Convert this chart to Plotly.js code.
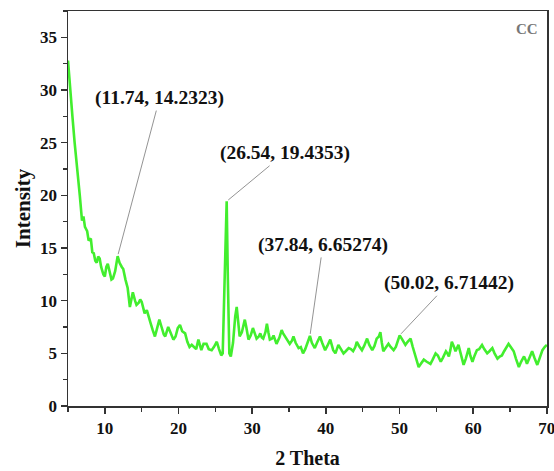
<!DOCTYPE html>
<html>
<head>
<meta charset="utf-8">
<script src="https://cdn.plot.ly/plotly-3.0.1.min.js"></script>
<style>html,body{margin:0;padding:0;background:#fff;}#chart{width:554px;height:471px;}</style>
</head>
<body>
<div id="chart"></div>
<script>
const twoTheta = [5.0,5.3,5.6,5.9,6.2,6.4,6.6,6.9,7.1,7.3,7.6,7.8,8.1,8.3,8.5,8.7,8.9,9.1,9.3,9.5,9.8,10.0,10.2,10.4,10.7,10.9,11.1,11.4,11.74,12.0,12.3,12.5,12.8,13.1,13.4,13.6,13.8,14.1,14.3,14.6,14.8,15.0,15.2,15.4,15.7,16.0,16.2,16.5,16.8,17.1,17.4,17.7,18.0,18.2,18.6,18.9,19.3,19.6,19.9,20.2,20.5,20.9,21.2,21.5,21.8,22.1,22.4,22.7,23.0,23.1,23.4,23.8,24.1,24.5,24.8,25.2,25.5,25.8,26.0,26.2,26.4,26.54,26.7,26.9,27.1,27.4,27.7,27.9,28.1,28.3,28.6,29.0,29.2,29.5,29.8,30.1,30.4,30.6,30.9,31.1,31.3,31.5,31.8,32.0,32.2,32.4,32.7,32.9,33.1,33.3,33.7,34.0,34.2,34.5,34.8,35.1,35.4,35.6,35.9,36.3,36.6,36.9,37.2,37.5,37.84,38.1,38.5,38.8,39.2,39.5,39.9,40.2,40.6,41.0,41.3,41.7,42.0,42.4,42.7,43.1,43.4,43.7,44.0,44.2,44.5,44.9,45.2,45.6,45.9,46.3,46.6,46.9,47.2,47.4,47.6,47.8,48.1,48.5,48.8,49.2,49.5,49.8,50.02,50.3,50.6,50.8,51.1,51.5,51.8,52.1,52.4,52.6,52.9,53.3,53.7,54.0,54.2,54.5,54.9,55.2,55.6,55.9,56.3,56.5,56.7,56.9,57.1,57.4,57.6,58.0,58.3,58.7,59.0,59.4,59.6,59.9,60.2,60.5,60.8,61.2,61.5,61.9,62.2,62.6,62.9,63.3,63.6,63.9,64.2,64.5,64.8,65.1,65.5,65.8,66.2,66.5,66.9,67.1,67.3,67.6,68.0,68.3,68.7,69.0,69.4,69.7,70.0];
const intensity = [32.8,30.5,27.5,25.0,22.5,21.2,20.0,17.6,18.0,17.0,16.6,15.7,15.9,14.6,14.5,13.8,13.6,14.2,14.0,13.2,12.5,12.3,13.2,13.5,12.4,12.0,12.1,12.8,14.23,13.6,13.2,13.0,12.0,11.2,9.4,10.2,10.8,10.0,9.6,9.8,10.1,9.9,9.3,8.8,9.1,8.5,7.9,7.2,6.6,7.4,8.2,7.5,6.8,6.6,7.5,7.0,6.3,6.6,7.4,7.7,7.1,6.9,6.1,5.6,5.8,5.6,5.4,6.3,5.5,5.3,5.9,5.9,5.4,5.3,5.6,6.1,5.4,4.8,5.0,10.0,16.0,19.44,12.0,5.0,4.7,6.0,8.5,9.4,8.0,6.6,7.0,8.2,7.5,6.3,6.7,7.4,6.8,6.4,6.6,6.9,6.5,6.4,7.0,7.8,7.0,6.3,6.4,6.7,6.3,5.9,6.5,7.2,6.9,6.6,6.2,5.9,6.2,6.6,6.0,5.5,5.6,5.0,5.4,6.0,6.65,6.0,5.5,6.0,6.6,6.0,5.3,5.7,6.3,5.3,5.0,5.8,5.4,5.0,5.2,5.5,5.4,5.2,5.6,6.1,5.7,5.3,5.7,6.4,5.8,5.3,5.7,6.4,6.6,7.0,6.0,5.2,5.5,5.9,5.6,5.3,5.6,6.2,6.71,6.4,6.0,5.8,6.1,6.4,5.6,4.8,4.1,3.7,4.0,4.4,4.2,4.1,4.0,4.4,5.0,4.8,4.2,4.6,5.2,5.0,4.7,5.3,6.1,5.6,5.2,5.8,5.0,3.9,4.5,5.5,4.8,4.2,4.8,5.3,5.4,5.8,5.4,5.0,5.2,5.5,5.0,4.5,4.7,4.8,5.2,5.6,5.9,5.6,5.2,4.5,3.7,4.2,4.7,4.4,4.0,4.5,5.2,4.6,3.9,4.5,5.3,5.6,5.8];

const peakX = [11.74, 26.54, 37.84, 50.02];
const peakY = [14.2323, 19.4353, 6.65274, 6.71442];
const peakLabels = ["(11.74, 14.2323)", "(26.54, 19.4353)", "(37.84, 6.65274)", "(50.02, 6.71442)"];
const labelOffsets = [[42, -158], [58, -48], [13, -91], [49, -52]];

const serif = "'Liberation Serif', 'Times New Roman', serif";

const annotations = peakX.map((x, i) => ({
  x: x, y: peakY[i], xref: 'x', yref: 'y',
  text: peakLabels[i],
  showarrow: true, arrowhead: 0, arrowwidth: 0.8, arrowcolor: '#777',
  ax: labelOffsets[i][0], ay: labelOffsets[i][1], standoff: 2,
  font: {family: serif, size: 19.5, color: '#111', weight: 'bold'}
}));
annotations.push({
  xref: 'paper', yref: 'paper', x: 0.985, y: 0.955, xanchor: 'right', yanchor: 'middle',
  text: 'CC', showarrow: false,
  font: {family: serif, size: 15, color: '#777', weight: 'bold'}
});

const trace = {
  x: twoTheta, y: intensity, type: 'scatter', mode: 'lines',
  line: {color: 'rgb(66,238,46)', width: 2.6}, showlegend: false
};

const axisCommon = {
  showline: true, linecolor: '#333', linewidth: 1.5, mirror: true,
  ticks: 'outside', ticklen: 6, tickwidth: 1.5, tickcolor: '#333',
  showgrid: false, zeroline: false, ticklabeloverflow: 'allow',
  tickfont: {family: serif, size: 17, color: '#111', weight: 'bold'}
};

const layout = {
  width: 554, height: 471,
  margin: {l: 68, r: 7, t: 11, b: 65},
  paper_bgcolor: '#fff', plot_bgcolor: '#fff',
  xaxis: Object.assign({}, axisCommon, {
    range: [5, 70.02], tickvals: [10,20,30,40,50,60,70], ticktext: ['10','20','30','40','50','60','70'],
    minor: {tickvals: [5,15,25,35,45,55,65], ticks: 'outside', ticklen: 4, tickwidth: 1.2, tickcolor: '#333'},
    title: {text: '2 Theta', standoff: 14, font: {family: serif, size: 20, color: '#111', weight: 'bold'}}
  }),
  yaxis: Object.assign({}, axisCommon, {
    range: [0, 37.5], tickvals: [0,5,10,15,20,25,30,35], ticktext: ['0','5','10','15','20','25','30','35'],
    minor: {dtick: 2.5, ticks: 'outside', ticklen: 4, tickwidth: 1.2, tickcolor: '#333'},
    title: {text: 'Intensity', standoff: 3, font: {family: serif, size: 21, color: '#111', weight: 'bold'}}
  }),
  annotations: annotations
};

Plotly.newPlot('chart', [trace], layout, {displayModeBar: false, staticPlot: true});
</script>
</body>
</html>
